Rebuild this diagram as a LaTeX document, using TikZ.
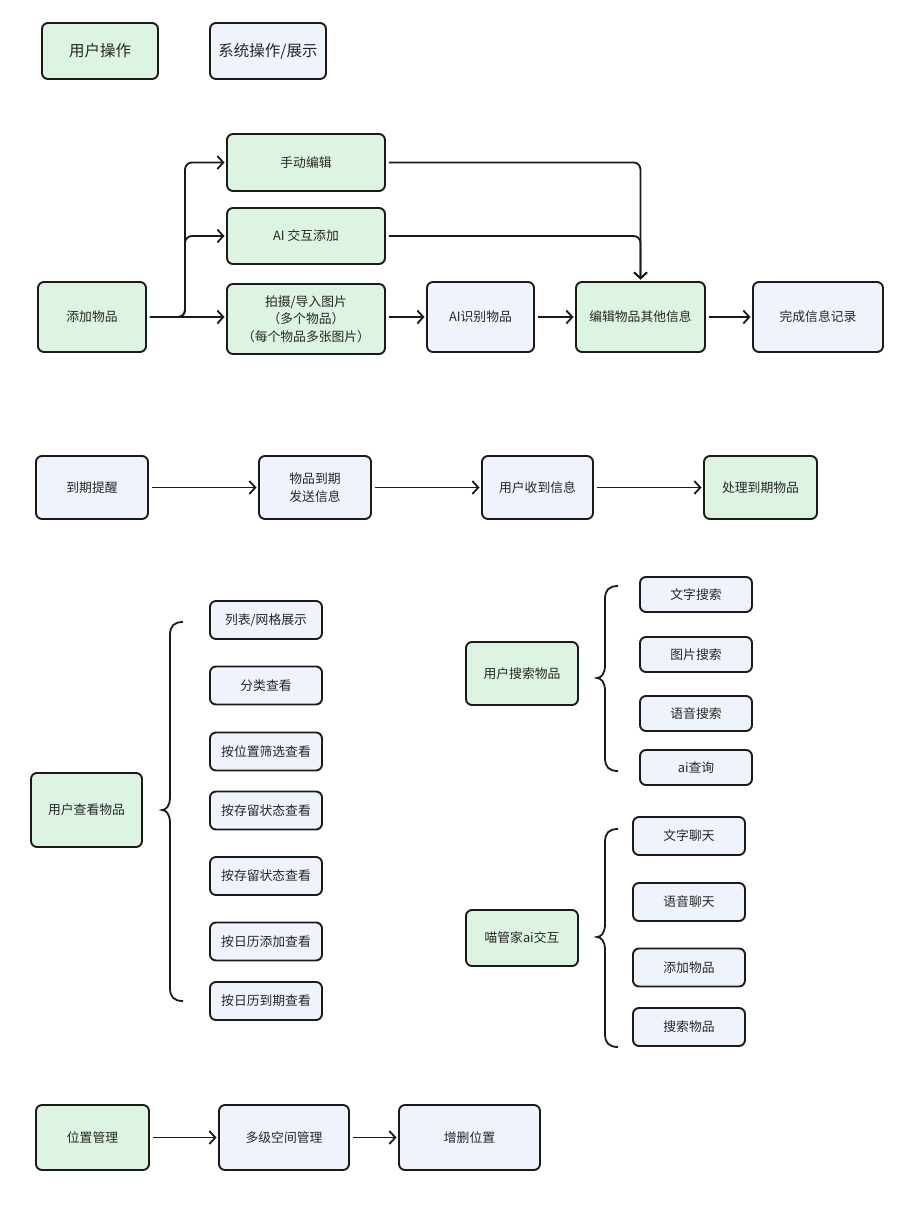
\documentclass[tikz,border=0pt]{standalone}
\usepackage{fontspec}
\setmainfont{Noto Sans CJK SC}
\usetikzlibrary{arrows.meta}
\definecolor{gfill}{HTML}{DDF4E2}
\definecolor{bfill}{HTML}{EEF3FC}
\definecolor{edge}{HTML}{1A1A1A}
\definecolor{txt}{HTML}{262626}
\tikzset{
  box/.style={draw=edge, line width=1.9pt, rounded corners=6pt, align=center, text=txt,
    font=\fontsize{12.8}{17.5}\selectfont, inner sep=0pt},
  gbox/.style={box, fill=gfill},
  bbox/.style={box, fill=bfill},
  arr/.style={draw=edge, line width=1.8pt, -{Straight Barb[length=6pt,width=13pt,line width=1.8pt]}, shorten <=3pt, shorten >=1.5pt},
  brace/.style={draw=edge, line width=1.8pt},
}
\begin{document}
\begin{tikzpicture}[x=1pt,y=-1pt]
\useasboundingbox (0,0) rectangle (918,1229);
% legend
\node[gbox, minimum width=116, minimum height=56, font=\fontsize{15.5}{18}\selectfont] (lg1) at (100,51) {用户操作};
\node[bbox, minimum width=116, minimum height=56, font=\fontsize{15.5}{18}\selectfont] (lg2) at (268,51) {系统操作/展示};
% row 1
\node[gbox, minimum width=108, minimum height=70] (add) at (92,317) {添加物品};
\node[gbox, minimum width=158, minimum height=57] (manual) at (306,162.5) {手动编辑};
\node[gbox, minimum width=158, minimum height=56] (aiadd) at (306,236) {AI 交互添加};
\node[gbox, minimum width=158, minimum height=70] (photo) at (306,319) {拍摄/导入图片\\（多个物品）\\（每个物品多张图片）};
\node[bbox, minimum width=107, minimum height=70] (airec) at (480.5,317) {AI识别物品};
\node[gbox, minimum width=129, minimum height=70] (edit) at (640.5,317) {编辑物品其他信息};
\node[bbox, minimum width=130, minimum height=70] (done) at (818,317) {完成信息记录};
\coordinate (br) at (185,317);
\draw[arr, rounded corners=7pt] (add.east) -- (br) |- (manual.west);
\draw[arr, rounded corners=7pt] (add.east) -- (br) |- (aiadd.west);
\draw[arr] (add.east) -- (add.east -| photo.west);
\draw[arr] (photo.east |- airec.west) -- (airec.west);
\draw[arr] (airec.east) -- (edit.west);
\draw[arr] (edit.east) -- (done.west);
\draw[arr, rounded corners=7pt] (manual.east) -| (edit.north);
\draw[arr, rounded corners=7pt] (aiadd.east) -| (edit.north);
% row 2
\node[bbox, minimum width=112, minimum height=63] (rem) at (92,487.5) {到期提醒};
\node[bbox, minimum width=112, minimum height=63] (send) at (315,487.5) {物品到期\\发送信息};
\node[bbox, minimum width=111, minimum height=63] (recv) at (537.5,487.5) {用户收到信息};
\node[gbox, minimum width=113, minimum height=63] (proc) at (760.5,487.5) {处理到期物品};
\draw[arr] (rem.east) -- (send.west);
\draw[arr] (send.east) -- (recv.west);
\draw[arr] (recv.east) -- (proc.west);
% view section
\node[gbox, minimum width=111, minimum height=74] (view) at (86.5,810) {用户查看物品};
\node[bbox, minimum width=112, minimum height=38] (v1) at (266,620) {列表/网格展示};
\node[bbox, minimum width=112, minimum height=38] (v2) at (266,685.5) {分类查看};
\node[bbox, minimum width=112, minimum height=38] (v3) at (266,751.5) {按位置筛选查看};
\node[bbox, minimum width=112, minimum height=38] (v4) at (266,810.5) {按存留状态查看};
\node[bbox, minimum width=112, minimum height=38] (v5) at (266,876) {按存留状态查看};
\node[bbox, minimum width=112, minimum height=38] (v6) at (266,941.5) {按日历添加查看};
\node[bbox, minimum width=112, minimum height=38] (v7) at (266,1001) {按日历到期查看};
\draw[brace] (183,622) .. controls (174,622) and (170,626) .. (170,635) -- (170,797)
  .. controls (170,806) and (166,810) .. (162,810) .. controls (166,810) and (170,814) .. (170,823)
  -- (170,988) .. controls (170,997) and (174,1001) .. (183,1001);
% search section
\node[gbox, minimum width=112, minimum height=63] (search) at (522,673.5) {用户搜索物品};
\node[bbox, minimum width=112, minimum height=35] (s1) at (696,594.5) {文字搜索};
\node[bbox, minimum width=112, minimum height=35] (s2) at (696,654.5) {图片搜索};
\node[bbox, minimum width=112, minimum height=35] (s3) at (696,713.5) {语音搜索};
\node[bbox, minimum width=112, minimum height=35] (s4) at (696,767.5) {ai查询};
\draw[brace] (618,586) .. controls (609,586) and (605,590) .. (605,599) -- (605,665)
  .. controls (605,674) and (601,678) .. (597,678) .. controls (601,678) and (605,682) .. (605,691)
  -- (605,758) .. controls (605,767) and (609,771) .. (618,771);
% ai section
\node[gbox, minimum width=112, minimum height=56] (cat) at (522,938) {喵管家ai交互};
\node[bbox, minimum width=112, minimum height=38] (c1) at (689,836) {文字聊天};
\node[bbox, minimum width=112, minimum height=38] (c2) at (689,902) {语音聊天};
\node[bbox, minimum width=112, minimum height=38] (c3) at (689,967.5) {添加物品};
\node[bbox, minimum width=112, minimum height=38] (c4) at (689,1027) {搜索物品};
\draw[brace] (618,829) .. controls (609,829) and (605,833) .. (605,842) -- (605,924)
  .. controls (605,933) and (601,937) .. (597,937) .. controls (601,937) and (605,941) .. (605,950)
  -- (605,1034) .. controls (605,1043) and (609,1047) .. (618,1047);
% location section
\node[gbox, minimum width=113, minimum height=65] (loc) at (92.5,1137.5) {位置管理};
\node[bbox, minimum width=130, minimum height=65] (multi) at (284,1137.5) {多级空间管理};
\node[bbox, minimum width=141, minimum height=65] (crud) at (469.5,1137.5) {增删位置};
\draw[arr] (loc.east) -- (multi.west);
\draw[arr] (multi.east) -- (crud.west);
\end{tikzpicture}
\end{document}
